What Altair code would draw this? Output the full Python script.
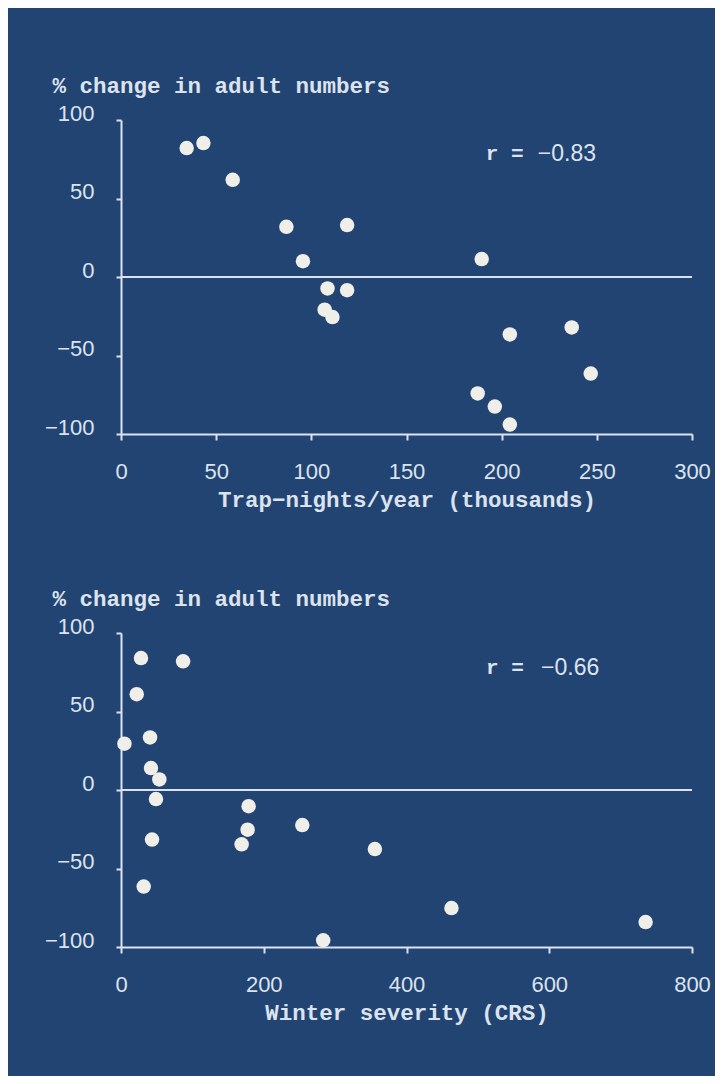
import altair as alt
import pandas as pd

# ---- data ----
trap_x = [34.5, 43.3, 58.7, 86.9, 118.8, 95.6, 108.5, 118.8, 107.0, 111.1,
          189.5, 187.4, 196.4, 204.3, 204.3, 236.8, 246.8]
trap_y = [82.1, 85.3, 61.9, 32.0, 33.1, 10.1, -7.3, -8.4, -20.8, -25.5,
          11.4, -74.2, -82.5, -94.0, -36.6, -32.1, -61.5]

winter_x = [28, 87, 22, 4.8, 40.7, 42, 53.7, 49, 43.5, 31.8,
            178.8, 177.4, 169, 254, 355.7, 283.3, 463, 735]
winter_y = [84, 82, 61, 29.5, 33.5, 14, 6.7, -5.8, -31.6, -61.5,
            -10.3, -25.3, -34.6, -22.3, -37.6, -95.7, -75.2, -84.1]

y_ticks = [-100, -50, 0, 50, 100]
trap_ticks = [0, 50, 100, 150, 200, 250, 300]
winter_ticks = [0, 200, 400, 600, 800]

y_title = "% change in adult numbers"
trap_title = "Trap\u2212nights/year (thousands)"
winter_title = "Winter severity (CRS)"

# annotation: label part, value part, positions in data units
trap_r = {"lab": "r =", "val": "\u22120.83", "x_lab": 191.6, "x_val": 219.0, "y": 78.5}
winter_r = {"lab": "r =", "val": "\u22120.66", "x_lab": 511.5, "x_val": 588.5, "y": 77.8}

BG = "#224472"
FG = "#dce3ee"
PT = "#efeee9"
SERIF = "Liberation Mono"
SANS = "Liberation Sans"


def panel(xs, ys, xdomain, xticks, xtitle, ann):
    df = pd.DataFrame({"x": xs, "y": ys})
    xenc = alt.X("x:Q",
                 scale=alt.Scale(domain=xdomain, nice=False, zero=False),
                 axis=alt.Axis(values=xticks, title=xtitle, labelFlush=False,
                               labelOverlap=False, tickSize=6, labelPadding=21,
                               titlePadding=6, format="d"))
    yenc = alt.Y("y:Q",
                 scale=alt.Scale(domain=[-100, 100], nice=False),
                 axis=alt.Axis(values=y_ticks, title=y_title, titleAngle=0,
                               titleAlign="left", titleBaseline="alphabetic",
                               titleX=-69, titleY=-28, labelFlush=False,
                               labelOverlap=False, tickSize=5, labelPadding=22,
                               labelOffset=-7, format="d"))
    zero = alt.Chart(pd.DataFrame({"z": [0]})).mark_rule(
        color=FG, strokeWidth=2).encode(y=alt.datum(0))
    pts = alt.Chart(df).mark_circle(size=210, opacity=1, color=PT).encode(x=xenc, y=yenc)
    adf_lab = pd.DataFrame({"x": [ann["x_lab"]], "y": [ann["y"]], "t": [ann["lab"]]})
    adf_val = pd.DataFrame({"x": [ann["x_val"]], "y": [ann["y"]], "t": [ann["val"]]})
    t1 = alt.Chart(adf_lab).mark_text(align="left", baseline="middle", font=SERIF,
                                      fontWeight="bold", fontSize=21, color=FG).encode(
        x=xenc, y=yenc, text="t:N")
    t2 = alt.Chart(adf_val).mark_text(align="left", baseline="middle", font=SANS,
                                      fontSize=23, color=FG).encode(
        x=xenc, y=yenc, text="t:N")
    return alt.layer(zero, pts, t1, t2).properties(width=571, height=314)


top = panel(trap_x, trap_y, [0, 300], trap_ticks, trap_title, trap_r)
bottom = panel(winter_x, winter_y, [0, 800], winter_ticks, winter_title, winter_r)

chart = alt.vconcat(top, bottom, spacing=76).properties(
    background=BG,
    padding={"left": 36, "top": 66, "right": 4, "bottom": 52},
).configure_view(stroke=None).configure_axis(
    domainColor=FG, domainWidth=2, tickColor=FG, tickWidth=2,
    labelColor=FG, labelFont=SANS, labelFontSize=22,
    titleColor=FG, titleFont=SERIF, titleFontSize=22.5, titleFontWeight="bold",
    grid=False,
)

chart.save("out.html", embed_options={"renderer": "svg", "actions": False})
